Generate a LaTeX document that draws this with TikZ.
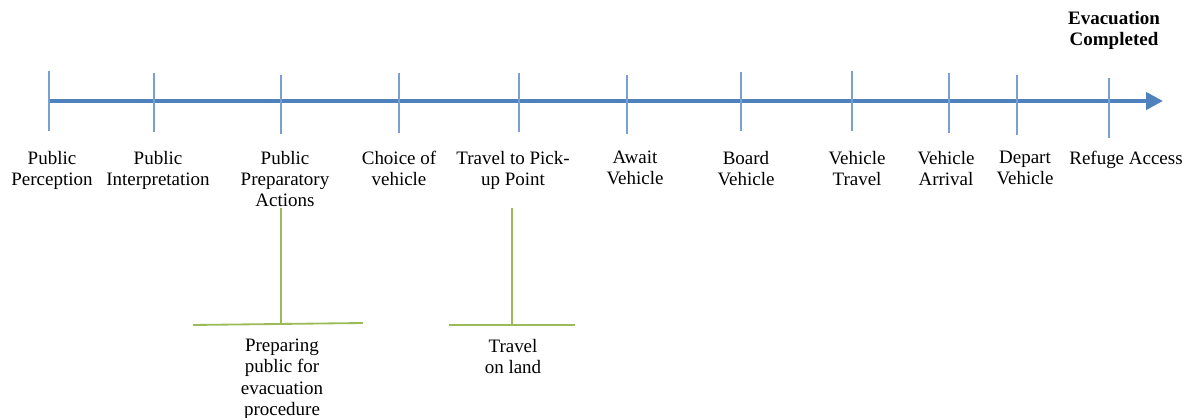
\documentclass[tikz,border=0pt]{standalone}
\usepackage{fontspec}
\setmainfont{Liberation Serif}
\usetikzlibrary{arrows.meta}

\definecolor{barblue}{RGB}{79,129,189}
\definecolor{tickblue}{RGB}{120,160,210}
\definecolor{leafgreen}{RGB}{155,187,89}

\tikzset{
  tick/.style={draw=tickblue, line width=1.3pt},
  stage/.style={anchor=north, align=center, inner sep=0pt, font=\fontsize{13.5}{15}\selectfont},
  branch/.style={draw=leafgreen, line width=1.3pt}
}

\begin{document}
\begin{tikzpicture}[x=0.025cm, y=-0.025cm]

\useasboundingbox (0,0) rectangle (1189,418);

% Draw the main time line
\coordinate (start) at (50,101);
\coordinate (finish) at (1163,101);
\draw[draw=barblue, line width=3pt, -{Triangle[length=0.42cm, width=0.42cm]}] (start) -- (finish);

% Draw the stage ticks across the line
\draw[tick] (49,71) -- (49,131);
\draw[tick] (154,73) -- (154,132);
\draw[tick] (281,75) -- (281,134);
\draw[tick] (399,73) -- (399,133);
\draw[tick] (519,73) -- (519,132);
\draw[tick] (627,75) -- (627,134);
\draw[tick] (741,72) -- (741,131);
\draw[tick] (852,71) -- (852,131);
\draw[tick] (949,73) -- (949,133);
\draw[tick] (1017,75) -- (1017,135);
\draw[tick] (1109,78) -- (1109,138);

% Label the stages below the ticks
\node[stage] (perception) at (52,151) {Public\\Perception};
\node[stage] (interpretation) at (158,151) {Public\\Interpretation};
\node[stage] (preparatory) at (285,151) {Public\\Preparatory\\Actions};
\node[stage] (choice) at (399,151) {Choice of\\vehicle};
\node[stage] (pickup) at (513,151) {Travel to Pick-\\up Point};
\node[stage] (await) at (635,151) {Await\\Vehicle};
\node[stage] (board) at (746,151) {Board\\Vehicle};
\node[stage] (travel) at (857,151) {Vehicle\\Travel};
\node[stage] (arrival) at (946,151) {Vehicle\\Arrival};
\node[stage] (depart) at (1025,151) {Depart\\Vehicle};
\node[stage] (refuge) at (1126,151) {Refuge Access};

% Mark the end of the evacuation
\node[stage, font=\fontsize{13.5}{15}\selectfont\bfseries] (completed) at (1114,11) {Evacuation\\Completed};

% Branch under the preparatory actions
\coordinate (prepTop) at (281,208);
\coordinate (prepFoot) at (281,324);
\coordinate (prepLeft) at (193,325);
\coordinate (prepRight) at (363,323);
\draw[branch] (prepTop) -- (prepFoot);
\draw[branch] (prepLeft) -- (prepRight);
\node[stage] (preparing) at (282,339) {Preparing\\public for\\evacuation\\procedure};

% Branch under the pick-up point
\coordinate (pickTop) at (512,208);
\coordinate (pickFoot) at (512,325);
\coordinate (pickLeft) at (449,325);
\coordinate (pickRight) at (575,325);
\draw[branch] (pickTop) -- (pickFoot);
\draw[branch] (pickLeft) -- (pickRight);
\node[stage] (land) at (513,339) {Travel\\on land};

\end{tikzpicture}
\end{document}
